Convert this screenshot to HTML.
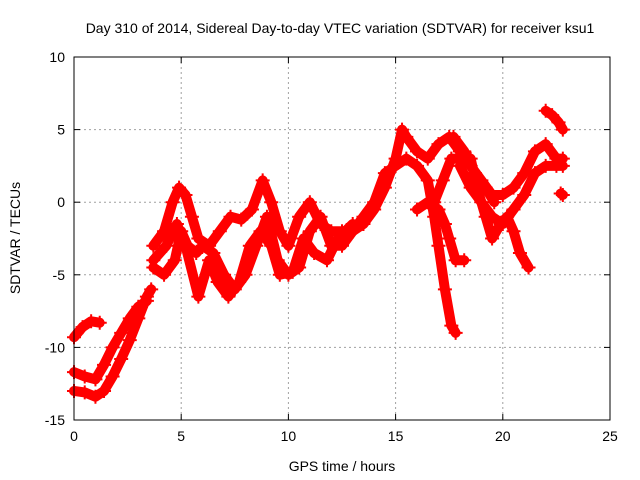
<!DOCTYPE html>
<html><head><meta charset="utf-8"><style>
body{margin:0;background:#fff}
svg{display:block;font-family:"Liberation Sans",sans-serif}
</style></head><body>
<svg id="c" width="640" height="480">
<text x="340" y="33" font-size="14" text-anchor="middle">Day 310 of 2014, Sidereal Day-to-day VTEC variation (SDTVAR) for receiver ksu1</text>
<text x="342" y="471" font-size="14" text-anchor="middle">GPS time / hours</text>
<text x="20" y="238" font-size="14" text-anchor="middle" transform="rotate(-90 20 238)">SDTVAR / TECUs</text>
<g id="grid"></g><g id="ticks"></g><g id="marks"></g>
<rect x="74" y="57" width="536" height="363" fill="none" stroke="#000" stroke-width="1"/>
</svg>
<script>
const xTicks=[0,5,10,15,20,25];
const yTicks=[-15,-10,-5,0,5,10];
const traceLow=[[0,-13],[0.5,-13.1],[1,-13.4],[1.4,-13],[1.8,-12],[2.2,-10.8],[2.6,-9.5],[3,-8],[3.4,-6.5],[3.6,-6]];
const traceLow2=[[0,-11.7],[0.5,-12],[1,-12.2],[1.4,-11.2],[1.8,-10],[2.2,-9],[2.6,-8],[3,-7.2],[3.4,-6.8]];
const traceShort=[[0,-9.3],[0.4,-8.6],[0.8,-8.2],[1.2,-8.3]];
const traceMain=[[3.7,-3],[4.2,-2],[4.6,0],[4.9,1],[5.2,0.5],[5.5,-1],[5.8,-2.5],[6.3,-3],[6.8,-2],[7.3,-1],[7.8,-1.2],[8.3,-0.5],[8.8,1.5],[9.2,0],[9.6,-2],[10,-3],[10.5,-1],[11,0],[11.5,-1.5],[12,-2],[12.5,-2],[13,-2],[13.5,-1.5],[14,-0.5],[14.5,1],[15,3],[15.3,5],[15.5,4.5],[16,3.5],[16.5,3],[17,4],[17.5,4.5],[18,3.5],[18.5,2.5],[19,1.5],[19.5,0.5],[20,0.5],[20.5,1],[21,2],[21.5,3.5],[22,4],[22.5,3],[22.8,3]];
const traceDrop=[[3.7,-4.5],[4.2,-5],[4.7,-4],[5,-2],[5.3,-3],[5.7,-3.5],[6,-3],[6.5,-3.5],[7,-5],[7.5,-6],[8,-5],[8.5,-3],[9,-1],[9.5,-4],[10,-5],[10.5,-4.5],[11,-2],[11.5,-1],[12,-3],[12.5,-3],[13,-2],[13.5,-1],[14,0],[14.5,2],[15,2.5],[15.5,3],[16,2.5],[16.5,1.5],[16.8,-1],[17,-3],[17.3,-6],[17.6,-8.5],[17.8,-9]];
const traceMid=[[3.7,-4],[4.3,-3],[4.8,-1.5],[5.2,-3],[5.8,-6.5],[6.3,-4],[6.7,-5.5],[7.2,-6.5],[7.7,-5.5],[8.2,-3],[8.7,-2],[9.2,-3],[9.6,-5],[10.2,-4.8],[10.7,-2.5],[11.2,-3.5],[11.8,-4],[12.3,-2.5],[13,-1.5]];
const traceB=[[16,-0.5],[16.5,0],[17,-0.5],[17.3,-1.5],[17.5,-2.5],[17.8,-4],[18.2,-4]];
const traceC=[[16.8,0],[17.2,1.5],[17.6,3],[18,3],[18.5,3],[18.8,1],[19.2,-1],[19.5,-2.5],[19.9,-1.5],[20.2,-1],[20.5,-2],[20.8,-3.5],[21.2,-4.5]];
const traceD=[[18,2.5],[18.5,1],[19,0],[19.5,-1],[20,-1.5],[20.5,-0.5],[21,0.5],[21.5,2],[22,2.5],[22.5,2.5],[22.8,2.5]];
const traceE=[[17.7,4.5],[18.2,3.5],[18.7,2],[19.2,1],[19.6,0]];
const traceF=[[22,6.3],[22.3,6],[22.6,5.5],[22.8,5]];
const traceG=[[22.7,0.6],[22.8,0.5]];
const traces=[traceLow,traceLow2,traceShort,traceMain,traceDrop,traceMid,traceB,traceC,traceD,traceE,traceF,traceG];
const X0=74,X1=610,Y0=420,Y1=57;
const sx=v=>X0+(v-0)/25*(X1-X0);
const sy=v=>Y0-(v+15)/25*(Y0-Y1);
const NS='http://www.w3.org/2000/svg';
function mk(t,a,p){const e=document.createElementNS(NS,t);for(const k in a)e.setAttribute(k,a[k]);p.appendChild(e);return e;}
const grid=document.getElementById('grid'),ticks=document.getElementById('ticks'),marks=document.getElementById('marks');
xTicks.forEach(t=>{const x=sx(t);
 if(t>0&&t<25){const g=mk('line',{x1:x,x2:x,y1:Y1,y2:Y0,stroke:'#a0a0a0','stroke-dasharray':'2,3'},grid);
 
 }
 mk('line',{x1:x,x2:x,y1:Y0,y2:Y0-6,stroke:'#000'},ticks);
 mk('line',{x1:x,x2:x,y1:Y1,y2:Y1+6,stroke:'#000'},ticks);
 const l=mk('text',{x:x,y:Y0+21,'font-size':14,'text-anchor':'middle'},ticks);l.textContent=t;
 
 });
yTicks.forEach(t=>{const y=sy(t);
 if(t>-15&&t<10){const g=mk('line',{x1:X0,x2:X1,y1:y,y2:y,stroke:'#a0a0a0','stroke-dasharray':'2,3'},grid);
 
 }
 mk('line',{x1:X0,x2:X0+6,y1:y,y2:y,stroke:'#000'},ticks);
 mk('line',{x1:X1,x2:X1-6,y1:y,y2:y,stroke:'#000'},ticks);
 const l=mk('text',{x:X0-9,y:y+5,'font-size':14,'text-anchor':'end'},ticks);l.textContent=t;
 
 });
traces.forEach(tr=>{
 const p=mk('polyline',{points:tr.map(d=>sx(d[0])+','+sy(d[1])).join(' '),fill:'none',stroke:'#ff0000','stroke-width':10,'stroke-linejoin':'round','stroke-linecap':'round'},marks);
 
 
 tr.forEach(d=>{const x=sx(d[0]),y=sy(d[1]);
  const m=mk('path',{d:`M${x-7},${y}H${x+7}M${x},${y-7}V${y+7}`,stroke:'#ff0000','stroke-width':2},marks);
  
  });
});
</script>
</body></html>
